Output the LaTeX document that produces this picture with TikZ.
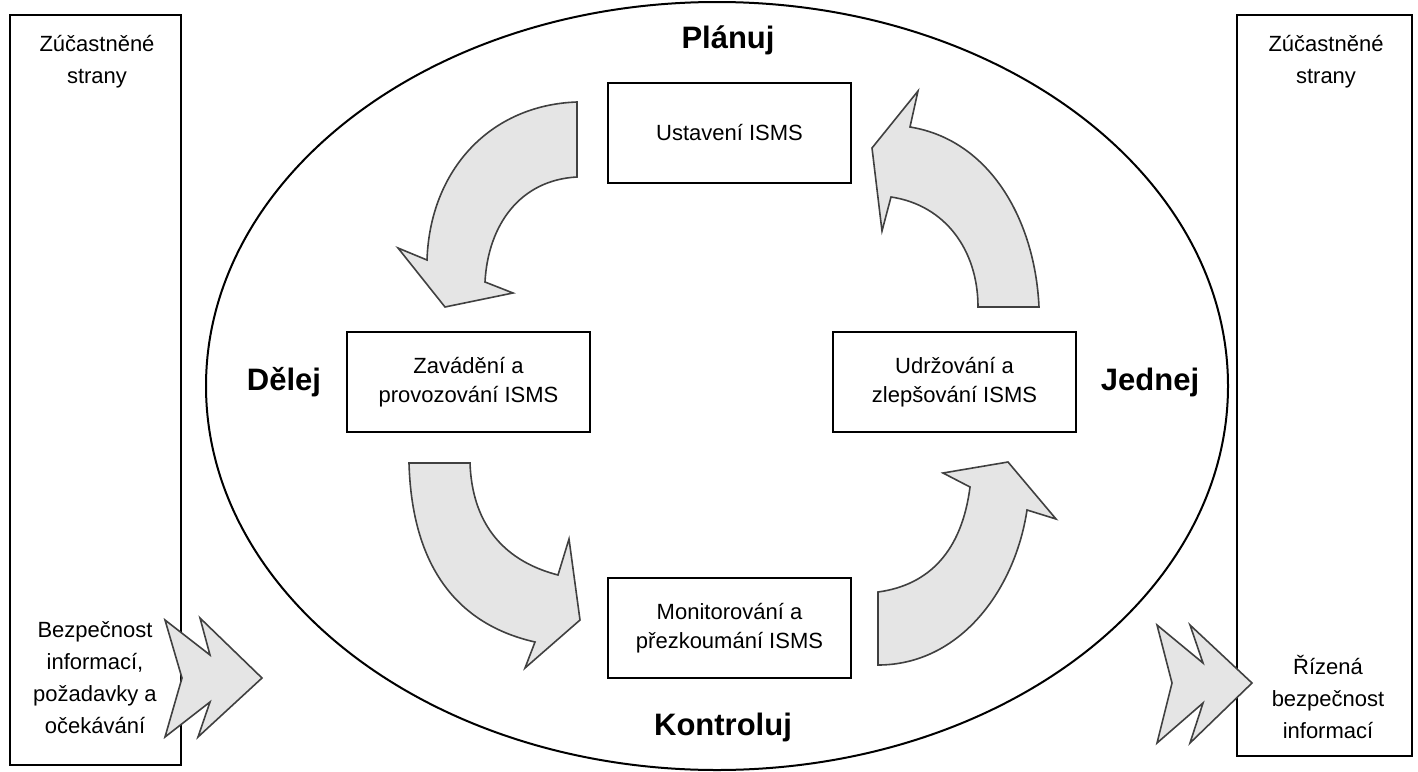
\documentclass[tikz,border=0pt]{standalone}
\usepackage{fontspec}
\setmainfont{Liberation Sans}
\usetikzlibrary{positioning}
\definecolor{arrowgray}{gray}{0.9}

\begin{document}
\begin{tikzpicture}[x=0.5pt,y=-0.5pt,
  box/.style={draw,line width=1pt,minimum width=121.5pt,minimum height=50pt,align=center,font=\fontsize{11}{14.5}\selectfont},
  side/.style={draw,line width=0.9pt},
  txt/.style={align=center,font=\fontsize{11}{16}\selectfont},
  phase/.style={font=\fontsize{15.5}{18}\selectfont\bfseries},
  blk/.style={draw=black!75,line width=0.8pt,fill=arrowgray,line join=miter}]
  \useasboundingbox (0,0) rectangle (1418,771);
  \draw[line width=1pt] (717,386) ellipse [x radius=511, y radius=384];
  % side boxes
  \node[side,minimum width=85.5pt,minimum height=375pt] (lbox) at (95.5,390) {};
  \node[side,minimum width=87.5pt,minimum height=370.5pt] (rbox) at (1324.5,385.5) {};
  % chevrons in and out
  \draw[blk] (165,620) -- (210,655) -- (200,618) -- (262,678) -- (198,737) -- (210,702) -- (165,737) -- (182,678) -- cycle;
  \draw[blk] (1157,625) -- (1203,663) -- (1190,625) -- (1252,683) -- (1190,743) -- (1203,703) -- (1157,743) -- (1172,683) -- cycle;
  \node[txt] (lparty) at (97,62) {Zúčastněné\\strany};
  \node[txt] (rparty) at (1326,62) {Zúčastněné\\strany};
  \node[txt] (lin) at (95,678) {Bezpečnost\\informací,\\požadavky a\\očekávání};
  \node[txt] (rout) at (1328,697) {Řízená\\bezpečnost\\informací};
  % PDCA boxes
  \node[box] (ustav) at (729.5,133) {Ustavení ISMS};
  \node[box] (zavad) at (468.5,382) {Zavádění a\\provozování ISMS};
  \node[box] (udrz) at (954.5,382) {Udržování a\\zlepšování ISMS};
  \node[box] (monit) at (729.5,628) {Monitorování a\\přezkoumání ISMS};
  \node[phase] (plan) at (728,40) {Plánuj};
  \node[phase] (do) at (284,382) {Dělej};
  \node[phase] (act) at (1150,382) {Jednej};
  \node[phase] (check) at (723,727) {Kontroluj};
  % curved block arrows
  \draw[blk] (577,102) .. controls (490,105) and (430,170) .. (427,260) -- (398,248) -- (445,307) -- (513,293) -- (485,282) .. controls (488,225) and (520,180) .. (577,177) -- cycle;
  \draw[blk] (409,463) -- (470,463) .. controls (472,520) and (500,560) .. (558,575) -- (569,539) -- (580,620) -- (525,668) -- (535,642) .. controls (460,625) and (412,570) .. (409,463) -- cycle;
  \draw[blk] (878,592) -- (878,665) .. controls (960,665) and (1015,590) .. (1027,510) -- (1056,519) -- (1008,462) -- (943,473) -- (970,487) .. controls (962,550) and (930,585) .. (878,592) -- cycle;
  \draw[blk] (978,307) -- (1039,307) .. controls (1035,220) and (990,140) .. (910,127) -- (918,91) -- (872,148) -- (882,231) -- (891,197) .. controls (945,205) and (978,250) .. (978,307) -- cycle;
\end{tikzpicture}
\end{document}
